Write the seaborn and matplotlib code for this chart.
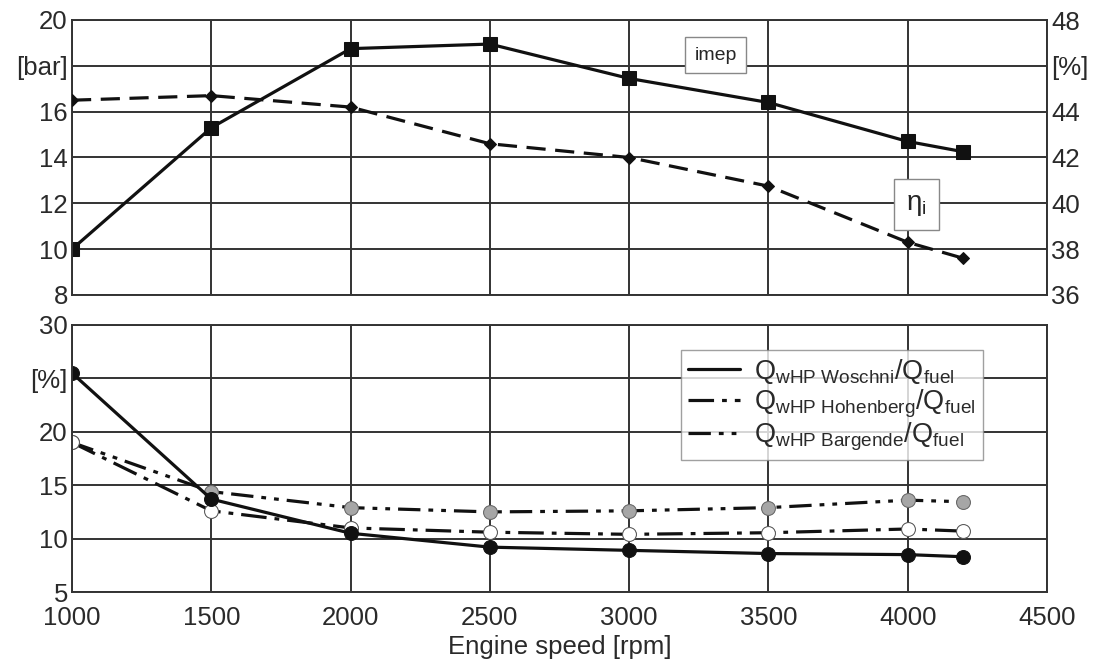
import matplotlib
matplotlib.use("Agg")
import matplotlib.pyplot as plt
import seaborn as sns
import pandas as pd
from matplotlib.lines import Line2D

speed = [1000, 1500, 2000, 2500, 3000, 3500, 4000, 4200]
imep = [10.0, 15.3, 18.75, 18.95, 17.45, 16.4, 14.7, 14.25]
eta_i = [44.5, 44.7, 44.2, 42.6, 42.0, 40.75, 38.3, 37.6]
q_woschni = [25.5, 13.7, 10.5, 9.2, 8.9, 8.6, 8.5, 8.3]
q_hohenberg = [19.0, 12.6, 11.0, 10.6, 10.4, 10.55, 10.9, 10.7]
q_bargende = [19.0, 14.4, 12.9, 12.5, 12.6, 12.9, 13.6, 13.45]

left_ticks = [8, 10, 12, 14, 16, 18, 20]
left_labels = ["8", "10", "12", "14", "16", "[bar]", "20"]
right_ticks = [36, 38, 40, 42, 44, 46, 48]
right_labels = ["36", "38", "40", "42", "44", "[%]", "48"]
bot_ticks = [5, 10, 15, 20, 25, 30]
bot_labels = ["5", "10", "15", "20", "[%]", "30"]
x_ticks = [1000, 1500, 2000, 2500, 3000, 3500, 4000, 4500]

sns.set_style("white")
plt.rcParams["font.family"] = ["Liberation Sans", "DejaVu Sans"]
plt.rcParams["mathtext.fontset"] = "custom"
plt.rcParams["mathtext.rm"] = "Liberation Sans"
plt.rcParams["mathtext.it"] = "Liberation Sans:italic"

df = pd.DataFrame({"speed": speed, "imep": imep, "eta": eta_i,
                   "wos": q_woschni, "hoh": q_hohenberg, "bar": q_bargende})

fig = plt.figure(figsize=(10.99, 6.61), dpi=100)
ax1 = fig.add_axes([72/1099, 1-295/661, (1047-72)/1099, 275/661])
ax3 = fig.add_axes([72/1099, 1-592/661, (1047-72)/1099, 267/661])
ax2 = ax1.twinx()

gridc = "#333333"
txtc = "#2a2a2a"
FS = 18.5

def style(ax):
    ax.grid(True, color=gridc, linewidth=1.4)
    ax.tick_params(length=0, labelsize=FS, colors=txtc, pad=3)
    for s in ax.spines.values():
        s.set_color(gridc)
        s.set_linewidth(1.4)

sns.lineplot(data=df, x="speed", y="imep", ax=ax1, color="#111111", linewidth=2.3,
             marker="s", markersize=10, markeredgecolor="#111111")
sns.lineplot(data=df, x="speed", y="eta", ax=ax2, color="#111111", linewidth=2.3,
             linestyle=(0, (6, 3)), marker="D", markersize=6, markeredgecolor="#111111")

ax1.set_xlim(1000, 4500)
ax1.set_ylim(8, 20)
ax2.set_ylim(36, 48)
ax1.set_xticks(x_ticks)
ax1.set_xticklabels([])
ax1.set_yticks(left_ticks)
ax1.set_yticklabels(left_labels)
ax2.set_yticks(right_ticks)
ax2.set_yticklabels(right_labels)
ax1.set_xlabel("")
ax1.set_ylabel("")
ax2.set_ylabel("")
style(ax1)
ax2.tick_params(length=0, labelsize=FS, colors=txtc, pad=3)
for s in ax2.spines.values():
    s.set_visible(False)

ax1.text(3310, 18.47, "imep", fontsize=14, ha="center", va="center", zorder=5,
         bbox=dict(boxstyle="square,pad=0.5", facecolor="white", edgecolor="#888888", linewidth=1))
ax2.text(4032, 39.93, r"$\mathregular{\eta_i}$", fontsize=20, ha="center", va="center", zorder=5,
         bbox=dict(boxstyle="square,pad=0.45", facecolor="white", edgecolor="#888888", linewidth=1))

l1 = r"$\mathregular{Q_{wHP\ Woschni}/Q_{fuel}}$"
l2 = r"$\mathregular{Q_{wHP\ Hohenberg}/Q_{fuel}}$"
l3 = r"$\mathregular{Q_{wHP\ Bargende}/Q_{fuel}}$"
ls_hoh = (0, (8, 2.5, 1.5, 2.5))
ls_bar = (0, (7, 2.5, 1.5, 2.5, 1.5, 2.5))

sns.lineplot(data=df, x="speed", y="bar", ax=ax3, color="#111111", linewidth=2.3,
             linestyle=ls_bar, marker="o", markersize=10,
             markerfacecolor="#a6a6a6", markeredgecolor="#666666")
sns.lineplot(data=df, x="speed", y="hoh", ax=ax3, color="#111111", linewidth=2.3,
             linestyle=ls_hoh, marker="o", markersize=10,
             markerfacecolor="white", markeredgecolor="#555555")
sns.lineplot(data=df, x="speed", y="wos", ax=ax3, color="#111111", linewidth=2.3,
             marker="o", markersize=10, markerfacecolor="#111111",
             markeredgecolor="#111111")

ax3.set_xlim(1000, 4500)
ax3.set_ylim(5, 30)
ax3.set_xticks(x_ticks)
ax3.set_xticklabels([str(v) for v in x_ticks])
ax3.set_yticks(bot_ticks)
ax3.set_yticklabels(bot_labels)
ax3.set_ylabel("")
ax3.set_xlabel("Engine speed [rpm]", fontsize=FS, color=txtc, labelpad=4)
style(ax3)
ax3.tick_params(axis="x", pad=10)

handles = [Line2D([], [], color="#111111", linewidth=2.3, linestyle="-"),
           Line2D([], [], color="#111111", linewidth=2.3, linestyle=ls_hoh),
           Line2D([], [], color="#111111", linewidth=2.3, linestyle=ls_bar)]
leg = ax3.legend(handles, [l1, l2, l3], loc="upper left", bbox_to_anchor=(0.625, 0.906),
                 fontsize=19.5, frameon=True, fancybox=False, handlelength=1.9,
                 borderpad=0.25, labelspacing=0.05, handletextpad=0.55,
                 borderaxespad=0)
leg.get_frame().set_edgecolor("#888888")
leg.get_frame().set_linewidth(1)
for t in leg.get_texts():
    t.set_color(txtc)

fig.savefig("out.png", dpi=100, facecolor="white")
